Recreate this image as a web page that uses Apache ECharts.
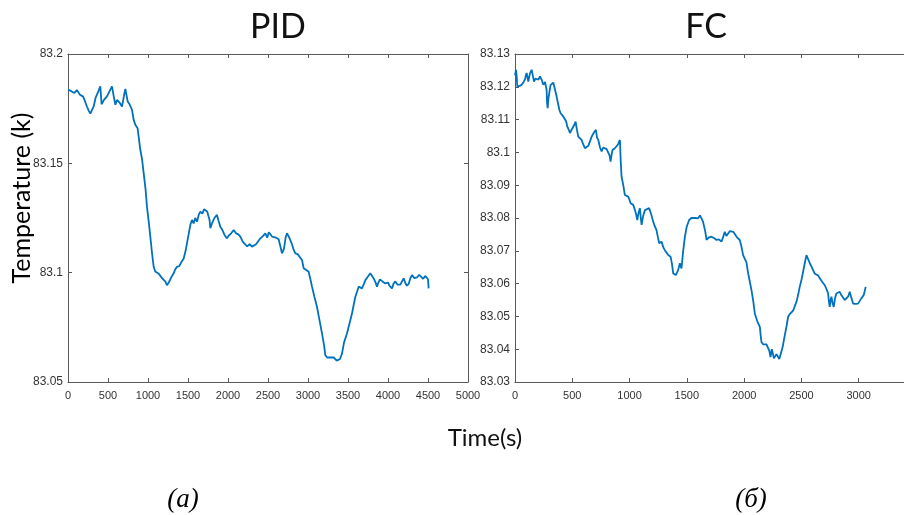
<!DOCTYPE html>
<html><head><meta charset="utf-8">
<script src="https://cdn.jsdelivr.net/npm/echarts@6/dist/echarts.min.js"></script>
<style>html,body{margin:0;padding:0;background:#fff;}#c{width:904px;height:515px;}</style>
</head><body><div id="c"></div>
<script>
// ---- data ----
const pidTitle = 'PID';
const fcTitle = 'FC';
const xName = 'Time(s)';
const yName = 'Temperature (k)';
const panelLabels = ['(a)', '(б)'];

// PID: [time (s), temperature (K)]
const pidSeries = [[0,83.1837],[40,83.1830],[80,83.1822],[110,83.1835],[150,83.1814],[190,83.1805],[237,83.1760],[260,83.1740],[279,83.1727],[300,83.1735],[321,83.1760],[345,83.1800],[362,83.1814],[380,83.1830],[404,83.1852],[420,83.1770],[450,83.1790],[487,83.1806],[520,83.1830],[550,83.1852],[570,83.1810],[592,83.1768],[612,83.1790],[633,83.1791],[650,83.1775],[675,83.1760],[700,83.1810],[717,83.1840],[735,83.1845],[746,83.1783],[770,83.1770],[800,83.1745],[820,83.1700],[842,83.1676],[870,83.1660],[904,83.1562],[925,83.1520],[946,83.1455],[970,83.1380],[987,83.1302],[1010,83.1230],[1029,83.1165],[1050,83.1090],[1071,83.1027],[1090,83.1005],[1112,83.1001],[1135,83.0995],[1154,83.0989],[1175,83.0975],[1196,83.0981],[1215,83.0960],[1237,83.0943],[1260,83.0955],[1280,83.0958],[1300,83.0985],[1321,83.0997],[1340,83.1015],[1362,83.1027],[1390,83.1030],[1420,83.1050],[1446,83.1065],[1470,83.1100],[1487,83.1134],[1510,83.1180],[1530,83.1220],[1550,83.1241],[1570,83.1225],[1590,83.1250],[1612,83.1233],[1635,83.1265],[1654,83.1279],[1680,83.1270],[1700,83.1290],[1717,83.1287],[1740,83.1280],[1758,83.1272],[1770,83.1240],[1779,83.1203],[1800,83.1225],[1830,83.1250],[1862,83.1264],[1880,83.1240],[1904,83.1210],[1930,83.1195],[1960,83.1170],[1987,83.1157],[2010,83.1170],[2040,83.1180],[2071,83.1195],[2100,83.1180],[2130,83.1175],[2154,83.1165],[2180,83.1145],[2200,83.1135],[2217,83.1126],[2240,83.1120],[2270,83.1130],[2300,83.1119],[2321,83.1119],[2350,83.1130],[2380,83.1145],[2404,83.1157],[2430,83.1165],[2467,83.1180],[2490,83.1160],[2510,83.1185],[2529,83.1192],[2550,83.1165],[2571,83.1170],[2600,83.1160],[2633,83.1153],[2655,83.1120],[2675,83.1088],[2700,83.1110],[2720,83.1160],[2737,83.1180],[2760,83.1165],[2779,83.1149],[2800,83.1130],[2820,83.1105],[2842,83.1088],[2870,83.1085],[2900,83.1070],[2925,83.1058],[2946,83.1020],[2970,83.1015],[3008,83.1004],[3030,83.0970],[3050,83.0936],[3080,83.0890],[3112,83.0844],[3140,83.0790],[3175,83.0722],[3200,83.0670],[3217,83.0622],[3240,83.0612],[3258,83.0618],[3290,83.0612],[3321,83.0612],[3340,83.0605],[3360,83.0598],[3375,83.0592],[3400,83.0605],[3425,83.0630],[3450,83.0680],[3487,83.0722],[3520,83.0770],[3550,83.0813],[3575,83.0860],[3592,83.0890],[3615,83.0915],[3633,83.0936],[3655,83.0930],[3675,83.0928],[3700,83.0950],[3717,83.0966],[3745,83.0980],[3779,83.0997],[3800,83.0990],[3820,83.0975],[3845,83.0955],[3862,83.0936],[3880,83.0955],[3900,83.0969],[3930,83.0960],[3967,83.0951],[4000,83.0955],[4020,83.0940],[4050,83.0928],[4070,83.0950],[4092,83.0960],[4120,83.0945],[4154,83.0945],[4175,83.0960],[4196,83.0974],[4220,83.0950],[4237,83.0940],[4260,83.0950],[4280,83.0975],[4300,83.0989],[4330,83.0975],[4362,83.0978],[4390,83.0990],[4412,83.0997],[4440,83.0972],[4465,83.0985],[4487,83.0989],[4500,83.0970],[4508,83.0928]];

// FC: [time (s), temperature (K)]
const fcSeries = [[0,83.1235],[9,83.1252],[15,83.1230],[20,83.1201],[40,83.1203],[58,83.1206],[75,83.1215],[87,83.1222],[95,83.1235],[102,83.1242],[116,83.1216],[130,83.1240],[145,83.1252],[155,83.1235],[166,83.1216],[178,83.1225],[189,83.1224],[205,83.1222],[218,83.1232],[232,83.1222],[247,83.1206],[262,83.1215],[276,83.1191],[280,83.1150],[285,83.1135],[292,83.1165],[299,83.1181],[310,83.1205],[320,83.1211],[334,83.1213],[350,83.1190],[363,83.1171],[375,83.1150],[387,83.1130],[397,83.1120],[407,83.1115],[420,83.1110],[436,83.1104],[446,83.1095],[456,83.1079],[468,83.1070],[480,83.1059],[495,83.1070],[509,83.1074],[519,83.1085],[529,83.1094],[540,83.1070],[552,83.1048],[565,83.1050],[581,83.1038],[595,83.1025],[610,83.1013],[625,83.1018],[640,83.1020],[654,83.1023],[669,83.1048],[688,83.1060],[706,83.1069],[716,83.1045],[727,83.1038],[742,83.1015],[756,83.1003],[770,83.1015],[785,83.1018],[800,83.1010],[814,83.1013],[826,83.0990],[834,83.0972],[844,83.0995],[852,83.1008],[870,83.1012],[887,83.1018],[900,83.1025],[916,83.1038],[922,83.0980],[930,83.0926],[945,83.0900],[959,83.0870],[975,83.0872],[988,83.0865],[1000,83.0855],[1009,83.0845],[1020,83.0850],[1032,83.0840],[1047,83.0824],[1058,83.0810],[1067,83.0794],[1078,83.0815],[1090,83.0830],[1098,83.0800],[1105,83.0779],[1118,83.0805],[1134,83.0824],[1150,83.0830],[1171,83.0830],[1190,83.0810],[1206,83.0789],[1220,83.0775],[1235,83.0763],[1248,83.0740],[1259,83.0723],[1279,83.0728],[1295,83.0710],[1308,83.0702],[1322,83.0695],[1337,83.0687],[1358,83.0682],[1370,83.0660],[1381,83.0631],[1404,83.0626],[1424,83.0641],[1439,83.0662],[1453,83.0646],[1468,83.0700],[1483,83.0743],[1500,83.0775],[1520,83.0794],[1540,83.0800],[1555,83.0804],[1575,83.0800],[1599,83.0799],[1615,83.0808],[1628,83.0814],[1640,83.0790],[1651,83.0794],[1660,83.0760],[1672,83.0733],[1690,83.0740],[1715,83.0743],[1740,83.0738],[1759,83.0733],[1780,83.0735],[1802,83.0728],[1815,83.0740],[1831,83.0758],[1845,83.0745],[1860,83.0753],[1875,83.0760],[1890,83.0763],[1905,83.0758],[1919,83.0753],[1940,83.0740],[1962,83.0733],[1975,83.0715],[1991,83.0687],[2006,83.0692],[2020,83.0665],[2035,83.0631],[2050,83.0605],[2064,83.0580],[2080,83.0545],[2093,83.0509],[2115,83.0485],[2137,83.0468],[2145,83.0440],[2151,83.0422],[2165,83.0415],[2180,83.0412],[2195,83.0415],[2209,83.0417],[2220,83.0395],[2230,83.0376],[2242,83.0400],[2253,83.0397],[2260,83.0372],[2267,83.0366],[2282,83.0385],[2297,83.0381],[2307,83.0370],[2317,83.0366],[2335,83.0405],[2355,83.0443],[2370,83.0470],[2384,83.0499],[2400,83.0508],[2413,83.0514],[2428,83.0518],[2442,83.0524],[2457,83.0545],[2471,83.0565],[2485,83.0590],[2500,83.0611],[2515,83.0637],[2529,83.0662],[2544,83.0687],[2558,83.0675],[2573,83.0662],[2590,83.0650],[2602,83.0641],[2617,83.0630],[2631,83.0626],[2645,83.0625],[2660,83.0616],[2682,83.0605],[2704,83.0595],[2720,83.0582],[2733,83.0570],[2740,83.0545],[2747,83.0529],[2755,83.0550],[2762,83.0560],[2772,83.0540],[2782,83.0529],[2793,83.0555],[2805,83.0570],[2820,83.0572],[2834,83.0575],[2848,83.0565],[2863,83.0560],[2878,83.0550],[2892,83.0544],[2907,83.0560],[2922,83.0575],[2937,83.0555],[2951,83.0539],[2970,83.0538],[2994,83.0539],[3010,83.0545],[3023,83.0555],[3035,83.0560],[3044,83.0565],[3052,83.0565],[3061,83.0590]];

const pidX = {min: 0, max: 5000, interval: 500};
const pidY = {min: 83.05, max: 83.2, interval: 0.05};
const fcX = {min: 0, max: 3500, interval: 500};
const fcY = {min: 83.03, max: 83.13, interval: 0.01};

// ---- styling ----
const LINE = '#0072BD';
const AXIS = '#595959';
const LBL = '#333333';
const xTickFont = {fontFamily: 'Liberation Sans, Arial, sans-serif', fontSize: 11, color: LBL};
const yTickFont = {fontFamily: 'Liberation Sans, Arial, sans-serif', fontSize: 12, color: LBL};
const fmtY = v => String(parseFloat((+v).toFixed(3)));
const titleFont = 'Lato, Open Sans, sans-serif';

function xAx(grid, s, pos, labels, hideMaxLabel) {
  return {
    type: 'value', gridIndex: grid, position: pos, min: s.min, max: s.max, interval: s.interval,
    axisLine: {show: true, onZero: false, lineStyle: {color: AXIS, width: 1}},
    axisTick: {show: true, inside: true, length: 4, lineStyle: {color: AXIS}},
    splitLine: {show: false},
    axisLabel: labels ? Object.assign({show: true, margin: 8,
      formatter: v => (hideMaxLabel && v === s.max) ? '' : String(v)}, xTickFont) : {show: false}
  };
}
function yAx(grid, s, pos, labels) {
  return {
    type: 'value', gridIndex: grid, position: pos, min: s.min, max: s.max, interval: s.interval,
    axisLine: {show: true, onZero: false, lineStyle: {color: AXIS, width: 1}},
    axisTick: {show: true, inside: true, length: 4, lineStyle: {color: AXIS}},
    splitLine: {show: false},
    axisLabel: labels ? Object.assign({show: true, margin: 5, formatter: fmtY}, yTickFont) : {show: false}
  };
}
function txt(text, x, y, size, extra) {
  return {type: 'text', x: x, y: y, silent: true, rotation: (extra && extra.rotation) || 0,
    style: Object.assign({text: text, fontFamily: titleFont, fontSize: size, fill: '#111',
      textAlign: 'center', textVerticalAlign: 'middle'}, (extra && extra.style) || {})};
}

const chart = echarts.init(document.getElementById('c'), null, {renderer: 'canvas'});
chart.setOption({
  animation: false,
  backgroundColor: '#ffffff',
  grid: [
    {left: 68, top: 54, width: 400, height: 328, containLabel: false, outerBoundsMode: 'none'},
    {left: 515, top: 54, width: 401, height: 328, containLabel: false, outerBoundsMode: 'none'}
  ],
  xAxis: [
    xAx(0, pidX, 'bottom', true, false),
    xAx(0, pidX, 'top', false, false),
    xAx(1, fcX, 'bottom', true, true),
    xAx(1, fcX, 'top', false, false)
  ],
  yAxis: [
    yAx(0, pidY, 'left', true),
    yAx(0, pidY, 'right', false),
    yAx(1, fcY, 'left', true),
    yAx(1, fcY, 'right', false)
  ],
  series: [
    {type: 'line', xAxisIndex: 0, yAxisIndex: 0, data: pidSeries, showSymbol: false,
      lineStyle: {color: LINE, width: 1.8}, itemStyle: {color: LINE}},
    {type: 'line', xAxisIndex: 2, yAxisIndex: 2, data: fcSeries, showSymbol: false,
      lineStyle: {color: LINE, width: 1.8}, itemStyle: {color: LINE}}
  ],
  graphic: [
    txt(pidTitle, 278, 27, 34),
    txt(fcTitle, 706, 27, 34),
    txt(xName, 485, 438, 24),
    txt(yName, 22, 198, 25, {rotation: Math.PI / 2, style: {fill: '#000'}}),
    txt(panelLabels[0], 183, 500, 27, {style: {fontFamily: 'Liberation Serif, Times New Roman, serif', fontStyle: 'italic', fill: '#000'}}),
    txt(panelLabels[1], 751, 500, 27, {style: {fontFamily: 'Liberation Serif, Times New Roman, serif', fontStyle: 'italic', fill: '#000'}})
  ]
});
</script></body></html>
